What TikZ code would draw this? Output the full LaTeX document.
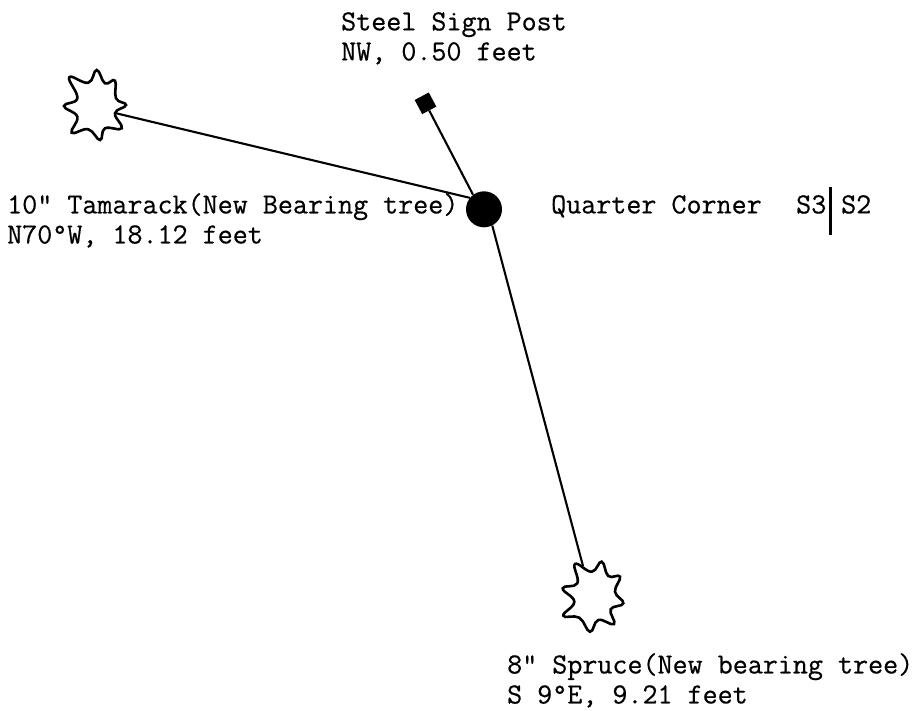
\documentclass[tikz,border=0pt]{standalone}
\usepackage{fontspec}
\setmonofont{Latin Modern Mono}[FakeBold=0.5]
\tikzset{
  lbl/.style={anchor=north west,inner sep=0pt,align=left,font=\ttfamily\fontsize{29.2}{30}\selectfont,text=black},
  ln/.style={draw=black,line width=2.1pt},
  tree/.style={draw=black,line width=2.6pt,fill=white,smooth cycle,tension=0.75}
}
\begin{document}
\begin{tikzpicture}[x=1pt,y=-1pt]
\useasboundingbox (0,0) rectangle (916,710);
\fill[white] (0,0) rectangle (916,710);
\node[circle,fill=black,minimum size=36pt,inner sep=0pt] (corner) at (484,209.3) {};
\node[rectangle,rotate=28,fill=black,minimum size=16pt,inner sep=0pt] (post) at (425.5,103.3) {};
\coordinate (t1end) at (115,113);
\coordinate (t2end) at (583,566);
\draw[ln] (t1end) -- (corner.141);
\draw[ln] (post) -- (corner.127);
\draw[ln] (corner.-63) -- (t2end);
\draw[tree] plot coordinates {
 (69.3,77.3) (88.3,82.7) (96.7,70) (105,83.3) (115,80.7) (116,98.3) (126,105) (115,113.3) (121.7,128.3) (105,128.3) (100,140) (88.3,129.3) (71.7,132.7) (77.3,116.7) (64,106) (77.3,98.3)};
\draw[tree] plot coordinates {
 (575,564) (591.7,571.7) (601.7,561.7) (608.3,576) (620,576.7) (615,591.7) (623.3,603.3) (610.7,609.3) (614,624) (598.3,620) (590,631.7) (579.3,617.7) (563.3,615.7) (574.3,601.7) (562.7,588.3) (577.3,583.3)};
\node[lbl] (lpost) at (341,12) {Steel Sign Post\\NW, 0.50 feet};
\node[lbl] (ltam) at (7,193) {10" Tamarack(New Bearing tree)\\N70°W, 18.12 feet};
\node[lbl] (lq) at (551,195) {Quarter Corner};
\node[lbl] (ls3) at (796,195) {S3};
\node[lbl] (ls2) at (841,195) {S2};
\coordinate (bartop) at (830.5,187);
\coordinate (barbot) at (830.5,235);
\draw[ln] (bartop) -- (barbot);
\node[lbl] (lspr) at (507,653) {8" Spruce(New bearing tree)\\S 9°E, 9.21 feet};
\end{tikzpicture}
\end{document}
